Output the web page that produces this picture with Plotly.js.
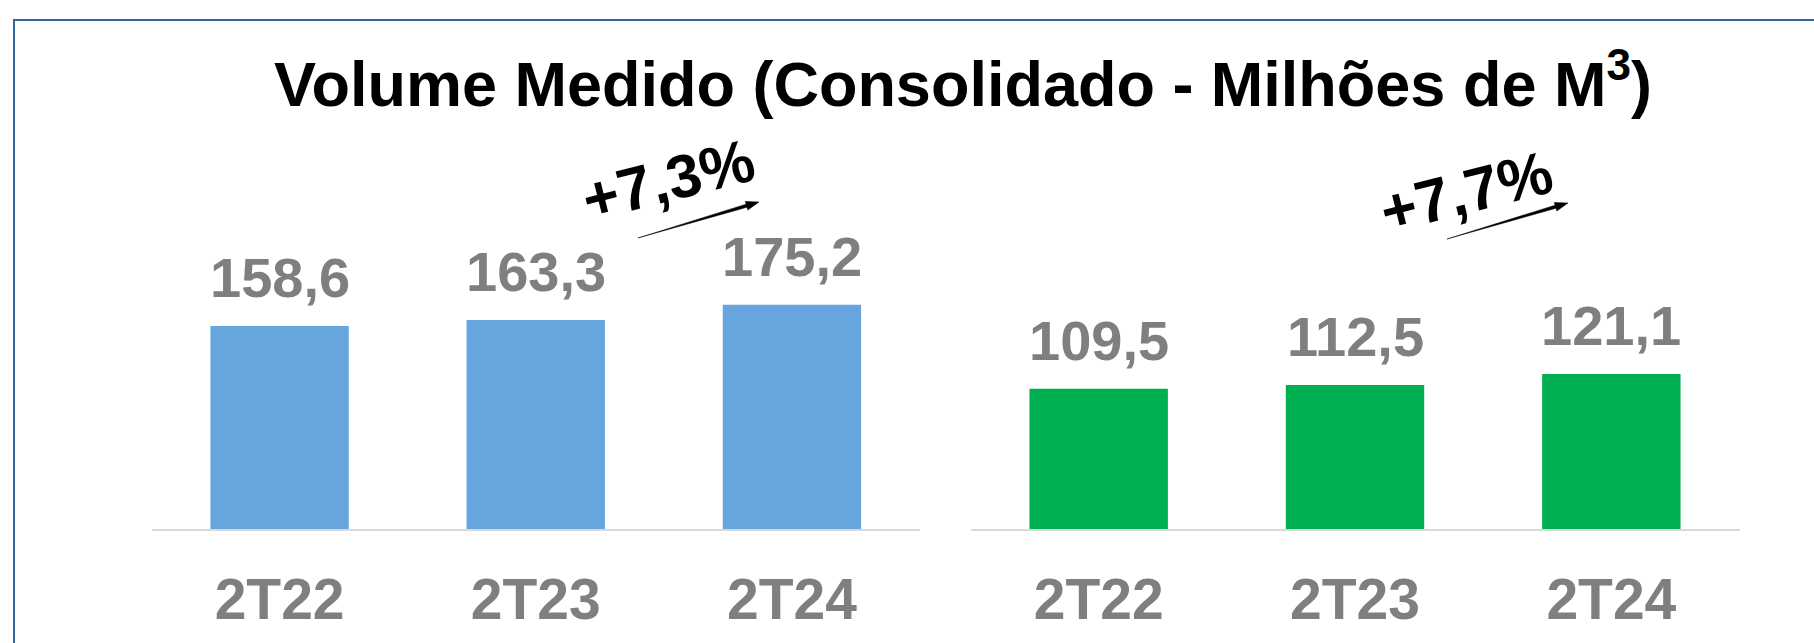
<!DOCTYPE html>
<html>
<head>
<meta charset="utf-8">
<script src="https://cdn.plot.ly/plotly-3.0.1.min.js"></script>
<style>
  html, body { margin: 0; padding: 0; background: #ffffff; }
  #wrap { position: relative; width: 1814px; height: 643px; overflow: hidden; }
  #chart { position: absolute; left: 0; top: 0; width: 1814px; height: 643px; }
  #frame { position: absolute; left: 13px; top: 19px; width: 1900px; height: 700px;
           border-left: 2px solid #35679f; border-top: 2px solid #35679f; pointer-events: none; }
</style>
</head>
<body>
<div id="wrap">
  <div id="chart"></div>
  <div id="frame"></div>
</div>
<script>
// ---- data ----
const categories = ['2T22', '2T23', '2T24'];
const volumeLeft = [158.6, 163.3, 175.2];
const volumeRight = [109.5, 112.5, 121.1];
const growthLabels = ['+7,3%', '+7,7%'];
const chartTitle = 'Volume Medido (Consolidado - Milhões de M<sup>3</sup>)';

// ---- styling ----
const W = 1814, H = 643;
const FONT = 'Liberation Sans, Arial, Helvetica, sans-serif';
const GRAY = '#7f7f7f';
const BLUE = '#67a5de';
const GREEN = '#00b050';
const yBottomPx = 529;          // pixel row of value 0
const yTopPx = 60;              // pixel row of range top
const pxPerUnit = 1.28;
const yMax = (yBottomPx - yTopPx) / pxPerUnit;
const yDomain = [(H - yBottomPx) / H, (H - yTopPx) / H];

function fmt(v) { return v.toFixed(1).replace('.', ','); }

const traces = [
  { type: 'bar', x: categories, y: volumeLeft, xaxis: 'x', yaxis: 'y',
    marker: { color: BLUE }, hoverinfo: 'skip', showlegend: false },
  { type: 'bar', x: categories, y: volumeRight, xaxis: 'x2', yaxis: 'y2',
    marker: { color: GREEN }, hoverinfo: 'skip', showlegend: false }
];

const annotations = [];
volumeLeft.forEach((v, i) => annotations.push({
  xref: 'x', yref: 'y', x: categories[i], y: v, text: fmt(v),
  showarrow: false, yanchor: 'bottom', yshift: 15,
  font: { family: FONT, size: 56, color: GRAY, weight: 'bold' }
}));
volumeRight.forEach((v, i) => annotations.push({
  xref: 'x2', yref: 'y2', x: categories[i], y: v, text: fmt(v),
  showarrow: false, yanchor: 'bottom', yshift: 15,
  font: { family: FONT, size: 56, color: GRAY, weight: 'bold' }
}));

// growth labels and tapered arrows (pixel layout converted to paper fractions)
const growthPos = [
  { tx: 668, ty: 180, hx: 759, hy: 202, tlx: 638, tly: 238 },
  { tx: 1466, ty: 192, hx: 1568, hy: 203, tlx: 1447, tly: 239 }
];
const shapes = [];
function px(x) { return x / W; }
function py(y) { return 1 - y / H; }
growthLabels.forEach((g, i) => {
  const p = growthPos[i];
  annotations.push({
    xref: 'paper', yref: 'paper', x: px(p.tx), y: py(p.ty),
    text: g, showarrow: false, xanchor: 'center', yanchor: 'middle',
    textangle: -14,
    font: { family: FONT, size: 61, color: '#000000', weight: 'bold' }
  });
  // tapered arrow
  const dx = p.hx - p.tlx, dy = p.hy - p.tly;
  const L = Math.sqrt(dx * dx + dy * dy);
  const ux = dx / L, uy = dy / L, nx = -uy, ny = ux;
  const headLen = 13, shaftHalf = 1.6, headHalf = 4.5;
  const bx = p.hx - headLen * ux, by = p.hy - headLen * uy;
  const pts = [
    [p.tlx, p.tly],
    [bx + shaftHalf * nx, by + shaftHalf * ny],
    [bx + headHalf * nx, by + headHalf * ny],
    [p.hx, p.hy],
    [bx - headHalf * nx, by - headHalf * ny],
    [bx - shaftHalf * nx, by - shaftHalf * ny]
  ];
  const path = 'M ' + pts.map(q => px(q[0]).toFixed(5) + ',' + py(q[1]).toFixed(5)).join(' L ') + ' Z';
  shapes.push({ type: 'path', xref: 'paper', yref: 'paper', path: path,
    fillcolor: '#000000', line: { width: 0.5, color: '#000000' }, layer: 'above' });
});

const xCommon = {
  type: 'category', showgrid: false, zeroline: false,
  showline: true, linecolor: '#d9d9d9', linewidth: 2,
  ticks: '', ticklabelstandoff: 20,
  tickfont: { family: FONT, size: 57, color: GRAY, weight: 'bold' },
  fixedrange: true
};
const yCommon = {
  range: [0, yMax], domain: yDomain, visible: false,
  showgrid: false, zeroline: false, fixedrange: true
};

const layout = {
  width: W, height: H,
  margin: { l: 0, r: 0, t: 0, b: 0 },
  paper_bgcolor: '#ffffff', plot_bgcolor: '#ffffff',
  bargap: 0.46,
  title: {
    text: chartTitle, xref: 'container', yref: 'container',
    x: 963 / W, xanchor: 'center', y: 1 - 84 / H, yanchor: 'middle',
    font: { family: FONT, size: 63, color: '#000000', weight: 'bold' }
  },
  xaxis: Object.assign({}, xCommon, { domain: [151.5 / W, 920 / W], anchor: 'y' }),
  xaxis2: Object.assign({}, xCommon, { domain: [970.5 / W, 1739.5 / W], anchor: 'y2' }),
  yaxis: Object.assign({}, yCommon, { anchor: 'x' }),
  yaxis2: Object.assign({}, yCommon, { anchor: 'x2' }),
  annotations: annotations,
  shapes: shapes
};

Plotly.newPlot('chart', traces, layout, { staticPlot: true, displayModeBar: false });
</script>
</body>
</html>
